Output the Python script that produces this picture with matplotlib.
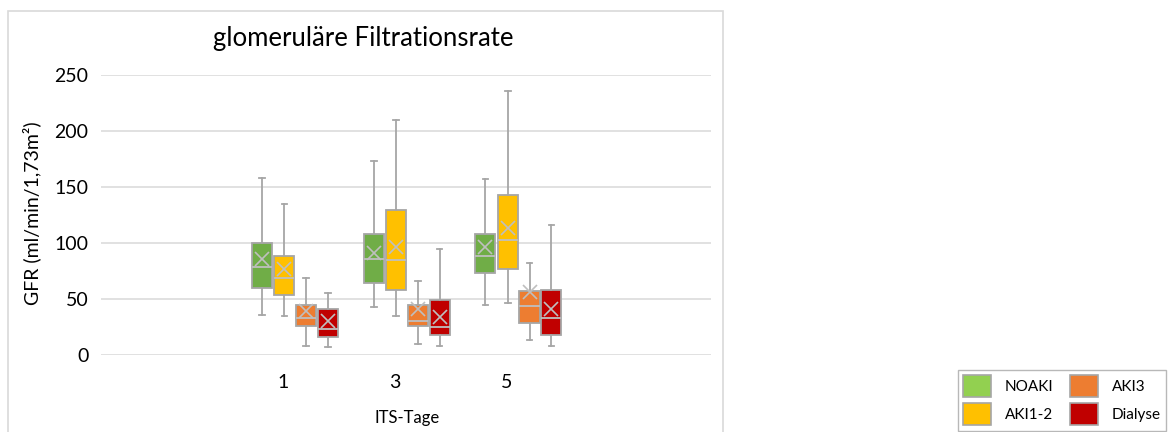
import matplotlib.pyplot as plt
from matplotlib.patches import Patch, Rectangle

plt.rcParams['font.family'] = ['Lato', 'DejaVu Sans']

days = [1, 3, 5]
groups = ["NOAKI", "AKI1-2", "AKI3", "Dialyse"]
box_colors = ["#70AD47", "#FFC000", "#ED7D31", "#C00000"]
legend_colors = ["#92D050", "#FFC000", "#ED7D31", "#C00000"]

# per group: values for day 1, 3, 5
whislo = {"NOAKI": [36, 43, 45], "AKI1-2": [35, 35, 46], "AKI3": [8, 9.5, 13], "Dialyse": [7, 8, 8]}
q1 = {"NOAKI": [59.5, 64, 73], "AKI1-2": [54, 58, 76.5], "AKI3": [26, 26, 29], "Dialyse": [16, 18, 18]}
med = {"NOAKI": [79, 86, 88], "AKI1-2": [68.5, 85, 103], "AKI3": [33, 30, 44], "Dialyse": [23, 25, 33]}
q3 = {"NOAKI": [100, 108, 108], "AKI1-2": [88, 129.5, 143], "AKI3": [45, 44.5, 57], "Dialyse": [41, 49, 58]}
whishi = {"NOAKI": [158, 173, 157], "AKI1-2": [135, 210, 236], "AKI3": [68.5, 66.5, 82], "Dialyse": [55, 95, 116]}
mean = {"NOAKI": [85.5, 91.5, 96.5], "AKI1-2": [76.5, 96, 113.5], "AKI3": [39.5, 41.5, 56.5], "Dialyse": [30, 34, 41.5]}

offsets = [-0.38, 0.02, 0.41, 0.80]
box_w = 0.36
gray = "#A6A6A6"

fig = plt.figure(figsize=(11.68, 4.32), dpi=100)
ax = fig.add_axes([101 / 1168, 1 - 355 / 432, 610 / 1168, 280 / 432])

for g, name in enumerate(groups):
    stats = []
    for d in range(len(days)):
        stats.append(dict(whislo=whislo[name][d], q1=q1[name][d], med=med[name][d],
                          q3=q3[name][d], whishi=whishi[name][d], mean=mean[name][d],
                          fliers=[]))
    pos = [day + offsets[g] for day in days]
    ax.bxp(stats, positions=pos, widths=box_w, capwidths=0.1, patch_artist=True,
           showmeans=True, showfliers=False,
           boxprops=dict(facecolor=box_colors[g], edgecolor=gray, linewidth=1.3),
           whiskerprops=dict(color=gray, linewidth=1.3),
           capprops=dict(color=gray, linewidth=1.3),
           medianprops=dict(color="#BFBFBF", linewidth=1.3),
           meanprops=dict(marker="x", markeredgecolor="#BFBFBF", markersize=10,
                          markeredgewidth=1.2))

ax.set_xlim(-2.265, 8.66)
ax.set_ylim(0, 250)
ax.set_xticks(days)
ax.set_xticklabels([str(d) for d in days])
ax.set_yticks(range(0, 251, 50))
ax.tick_params(axis='both', length=0, labelsize=14, colors="#000000")
ax.tick_params(axis='x', pad=14)
ax.tick_params(axis='y', pad=9)
ax.yaxis.grid(True, color="#D9D9D9", linewidth=1.1)
ax.set_axisbelow(True)
for s in ax.spines.values():
    s.set_visible(False)

ax.set_xlabel("ITS-Tage", fontsize=12)
ax.xaxis.set_label_coords(0.502, -0.195)
ax.set_ylabel("GFR (ml/min/1,73m²)", fontsize=14, ha='center', va='center',
              rotation_mode='default')
ax.yaxis.set_label_coords(-0.113, 0.505)

# chart frame and title
fig.add_artist(Rectangle((8 / 1168, -0.05), 715 / 1168, 1.05 - 11 / 432,
                         transform=fig.transFigure, fill=False,
                         edgecolor="#D9D9D9", linewidth=1.2))
fig.text(363 / 1168, 1 - 46 / 432, "glomeruläre Filtrationsrate",
         fontsize=18.5, ha='center', va='baseline')

handles = [Patch(facecolor=c, edgecolor=gray, linewidth=1.2) for c in legend_colors]
leg = fig.legend(handles, groups, loc='upper left', bbox_to_anchor=(950 / 1168, 1 - 362 / 432),
                 ncol=2, fontsize=11, handlelength=1.83, handleheight=1.83,
                 handletextpad=0.9, columnspacing=1.1, labelspacing=0.42,
                 borderpad=0.35, frameon=True, fancybox=False)
leg.get_frame().set_edgecolor("#A6A6A6")
leg.get_frame().set_linewidth(1.0)

fig.savefig("out.png", dpi=100)
